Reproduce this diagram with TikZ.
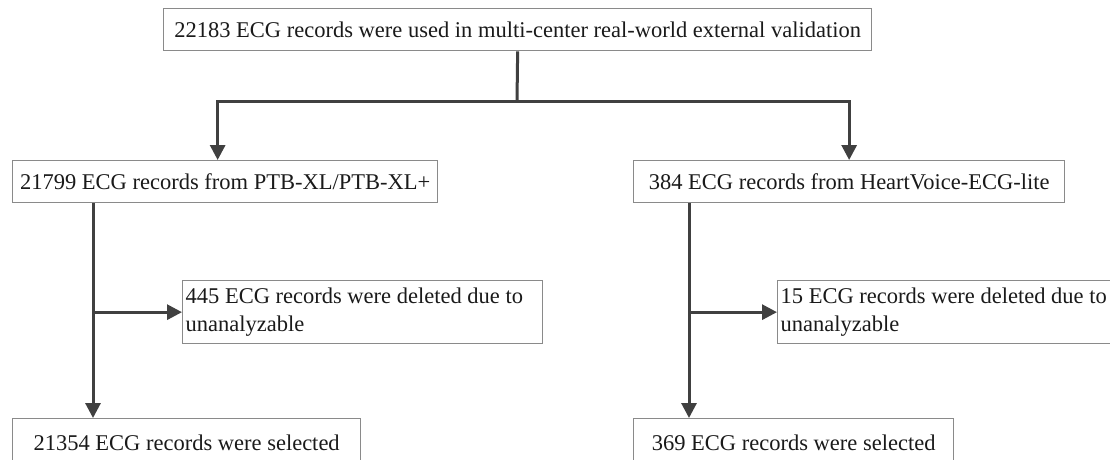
\documentclass[tikz,border=0pt]{standalone}
\usepackage{fontspec}
\setmainfont{Liberation Serif}
\usetikzlibrary{arrows.meta}
\definecolor{boxline}{HTML}{8A8A8A}
\definecolor{conn}{HTML}{404040}
\definecolor{txt}{HTML}{1A1A1A}
\begin{document}
\begin{tikzpicture}[x=1pt,y=-1pt,
  box/.style={draw=boxline,line width=1.3pt,fill=white,text=txt,
    font=\fontsize{22.5}{28}\selectfont,inner sep=0pt,anchor=north west},
  midbox/.style={box,align=flush left,inner xsep=3pt},
  conn/.style={draw=conn,line width=3pt},
  arr/.style={conn,-{Triangle[length=15pt,width=15pt]}}]
\useasboundingbox (0,0) rectangle (1110,459);
\clip (0,0) rectangle (1110,459);
\fill[white] (0,0) rectangle (1110,459);
% boxes
\node[box,minimum width=708pt,minimum height=42pt] (top) at (163,8)
  {22183 ECG records were used in multi-center real-world external validation};
\node[box,minimum width=425pt,minimum height=42pt] (left) at (12,160)
  {21799 ECG records from PTB-XL/PTB-XL+};
\node[box,minimum width=431pt,minimum height=42pt] (right) at (633,160)
  {384 ECG records from HeartVoice-ECG-lite};
\node[midbox,text width=354pt,minimum height=63pt] (lmid) at (182,280)
  {445 ECG records were deleted due to\\unanalyzable};
\node[midbox,text width=354pt,minimum height=63pt] (rmid) at (777,280)
  {15 ECG records were deleted due to\\unanalyzable};
\node[box,minimum width=348pt,minimum height=48pt] (botL) at (12,418)
  {21354 ECG records were selected};
\node[box,minimum width=320pt,minimum height=48pt] (botR) at (633,418)
  {369 ECG records were selected};
% connectors
\coordinate (split) at (517,101);
\draw[conn] (top.south) -- (split);
\draw[arr] (split) -| ([xshift=-7.5pt]left.north);
\draw[arr] (split) -| (right.north);
\coordinate (lbr) at ([xshift=81pt]left.south west |- lmid.west);
\coordinate (rbr) at ([xshift=56pt]right.south west |- rmid.west);
\draw[arr] ([xshift=81pt]left.south west) -- ([xshift=81pt]botL.north west);
\draw[arr] (lbr) -- (lmid.west);
\draw[arr] ([xshift=56pt]right.south west) -- ([xshift=56pt]botR.north west);
\draw[arr] (rbr) -- (rmid.west);
\end{tikzpicture}
\end{document}
